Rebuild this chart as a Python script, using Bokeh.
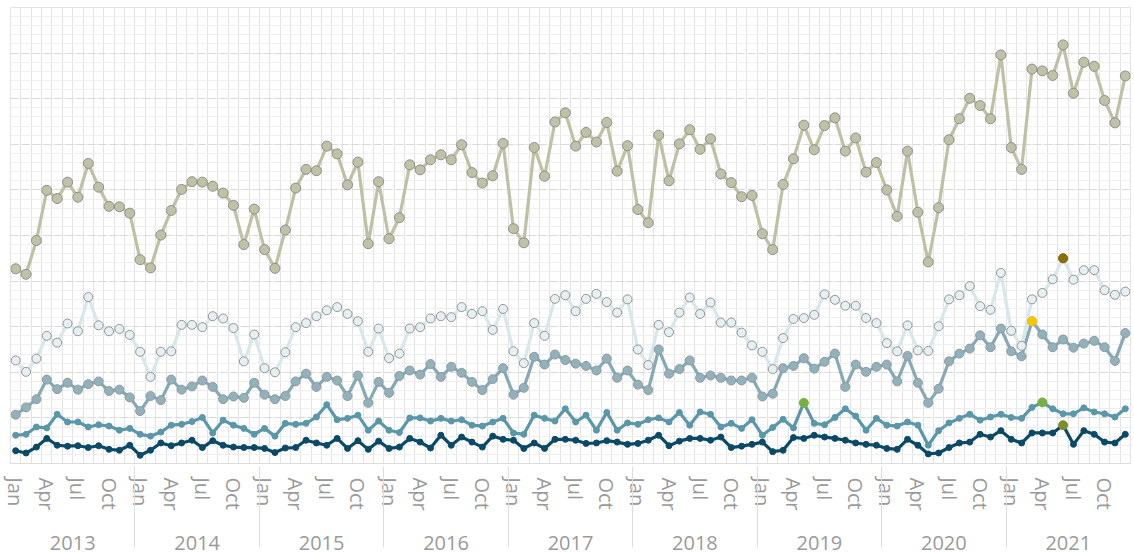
from bokeh.plotting import figure
from bokeh.models import FactorRange, FixedTicker, SingleIntervalTicker, ColumnDataSource
from bokeh.embed import file_html
from bokeh.resources import INLINE

years = ["2013", "2014", "2015", "2016", "2017", "2018", "2019", "2020", "2021"]
# only Jan / Apr / Jul / Oct are labelled; other months get distinct blank labels
month_labels = ["Jan", " ", "  ", "Apr", "   ", "    ", "Jul", "     ", "      ", "Oct", "       ", "        "]

series_1 = [42.7, 41.5, 48.9, 59.9, 58.1, 61.7, 58.4, 65.8, 60.6, 56.4, 56.3, 54.9,
            44.7, 42.9, 50.1, 55.5, 60.1, 61.8, 61.7, 60.8, 59.3, 56.6, 48.0, 55.8,
            46.9, 42.8, 51.2, 60.4, 64.5, 64.2, 69.6, 67.9, 61.1, 66.1, 48.2, 61.8,
            49.3, 53.9, 65.5, 64.4, 66.6, 67.7, 66.6, 69.9, 63.8, 61.5, 63.1, 70.2,
            51.5, 48.4, 69.3, 63.0, 74.9, 76.9, 69.6, 72.6, 70.5, 74.8, 64.1, 69.7,
            55.7, 52.8, 72.0, 62.0, 70.1, 73.2, 68.9, 71.2, 63.5, 61.6, 58.5, 58.8,
            50.4, 46.9, 61.2, 66.8, 74.2, 68.8, 74.1, 75.8, 68.5, 71.4, 63.9, 66.0,
            60.0, 54.2, 68.5, 55.1, 44.2, 56.1, 71.0, 75.6, 80.1, 78.5, 75.6, 89.6,
            69.3, 64.5, 86.5, 86.1, 85.1, 91.8, 81.2, 88.0, 87.1, 79.6, 74.7, 85.0]

series_2 = [22.6, 20.1, 23.0, 28.0, 26.5, 30.7, 29.0, 36.5, 30.3, 29.0, 29.5, 28.2,
            24.5, 19.0, 24.5, 24.6, 30.4, 30.4, 29.9, 32.3, 31.8, 29.7, 22.4, 28.3,
            20.9, 20.0, 24.4, 29.9, 30.8, 32.3, 33.6, 34.3, 32.8, 31.2, 24.5, 29.6,
            23.1, 24.1, 29.6, 29.9, 31.8, 32.3, 32.1, 34.3, 32.8, 33.4, 29.3, 33.9,
            24.6, 22.0, 30.8, 28.0, 36.1, 36.9, 33.4, 36.1, 37.2, 35.4, 33.1, 36.0,
            25.0, 21.6, 30.4, 28.8, 33.1, 36.4, 32.8, 35.3, 30.9, 30.9, 28.7, 25.9,
            24.5, 20.7, 27.5, 31.7, 31.9, 32.6, 37.1, 35.9, 34.6, 34.6, 31.9, 30.8,
            26.4, 24.6, 30.3, 24.8, 24.7, 30.1, 36.0, 36.9, 38.9, 34.5, 33.7, 41.8,
            29.1, 25.8, 36.0, 37.4, 40.4, 45.0, 40.3, 42.4, 42.4, 38.0, 37.0, 37.7]

series_3 = [10.7, 12.3, 14.1, 18.4, 16.3, 17.7, 16.2, 17.4, 18.0, 15.9, 16.2, 14.5,
            11.5, 14.8, 13.9, 18.4, 16.2, 16.9, 18.2, 16.8, 14.1, 14.7, 14.4, 17.7,
            15.1, 14.1, 14.8, 18.0, 19.7, 16.8, 19.0, 18.2, 14.8, 19.3, 13.3, 17.9,
            15.5, 19.2, 20.4, 19.5, 21.8, 19.0, 21.2, 19.9, 17.9, 16.1, 18.5, 20.9,
            15.1, 16.6, 23.4, 21.7, 23.9, 22.7, 21.9, 21.4, 20.4, 23.0, 18.8, 20.4,
            17.3, 16.1, 25.0, 19.7, 20.7, 22.6, 18.8, 19.3, 18.8, 18.2, 18.2, 18.8,
            14.7, 15.3, 20.9, 21.4, 23.1, 20.8, 22.3, 24.1, 16.8, 21.7, 20.1, 21.2,
            21.7, 18.0, 23.6, 17.7, 13.3, 16.4, 22.4, 24.1, 25.2, 28.1, 25.5, 29.6,
            24.6, 23.5, 31.2, 28.3, 25.5, 27.2, 25.4, 26.3, 26.9, 25.5, 22.5, 28.6]

series_4 = [6.2, 6.4, 8.0, 7.8, 10.8, 9.1, 9.1, 8.0, 8.5, 8.2, 7.3, 7.7,
            6.4, 6.0, 6.9, 8.4, 8.6, 9.2, 10.1, 6.7, 9.5, 8.4, 7.7, 6.4,
            7.7, 6.0, 8.8, 8.6, 8.8, 10.2, 12.9, 9.6, 9.9, 10.6, 7.3, 9.3,
            7.3, 6.8, 10.0, 10.0, 9.3, 9.9, 9.3, 9.6, 8.4, 8.2, 9.1, 9.9,
            6.7, 6.4, 10.6, 9.9, 9.3, 12.0, 9.1, 10.6, 7.3, 11.2, 7.3, 8.9,
            8.6, 9.6, 10.0, 9.1, 11.2, 8.4, 11.3, 10.8, 8.0, 8.8, 7.7, 9.6,
            6.2, 7.9, 9.7, 7.8, 13.3, 8.8, 8.5, 10.1, 12.0, 10.4, 7.3, 9.9,
            8.4, 8.2, 9.1, 8.4, 4.0, 7.2, 8.9, 9.9, 10.8, 9.5, 10.2, 10.8,
            10.1, 9.9, 12.3, 13.4, 12.0, 10.9, 10.9, 12.2, 11.3, 10.9, 10.2, 12.0]

series_5 = [2.8, 2.3, 3.6, 5.5, 4.0, 3.8, 3.9, 3.5, 3.9, 3.1, 2.9, 4.0,
            1.8, 2.9, 4.5, 3.9, 4.5, 5.1, 3.5, 5.0, 4.0, 3.6, 3.5, 3.5,
            3.3, 2.4, 3.4, 3.5, 5.1, 4.5, 4.0, 5.5, 3.3, 5.0, 3.1, 4.9,
            3.3, 3.6, 5.5, 4.7, 3.4, 6.2, 4.0, 5.8, 4.7, 3.6, 6.0, 5.3,
            5.1, 3.3, 4.5, 3.3, 5.3, 5.3, 5.1, 4.4, 4.5, 5.0, 4.7, 4.2,
            4.4, 5.1, 6.2, 3.9, 4.9, 5.5, 5.5, 5.1, 5.8, 3.5, 3.8, 4.2,
            4.7, 2.6, 2.9, 5.7, 5.5, 6.2, 5.8, 5.5, 5.1, 4.5, 4.2, 4.0,
            3.3, 3.1, 5.3, 4.0, 2.1, 2.3, 3.5, 4.5, 4.7, 6.4, 5.8, 7.2,
            5.3, 4.5, 6.7, 6.7, 6.7, 8.4, 4.2, 7.2, 6.4, 4.7, 4.5, 6.4]

# highlighted points: (series number, month index from Jan 2013, colour)
highlights = [(2, 101, "#8c6d00"), (3, 98, "#f7c600"), (4, 76, "#78b043"),
              (4, 99, "#78b043"), (5, 101, "#7f8c2d")]

factors = [(y, m) for y in years for m in month_labels]
all_series = {1: series_1, 2: series_2, 3: series_3, 4: series_4, 5: series_5}

x_range = FactorRange(*factors, range_padding=0, factor_padding=0, group_padding=0,
                      subgroup_padding=0)

p = figure(x_range=x_range, y_range=(0, 100), width=1134, height=553,
           output_backend="svg", toolbar_location=None,
           min_border_left=10, min_border_right=4, min_border_top=7, min_border_bottom=90)
p.outline_line_color = "#e3e3e3"
p.background_fill_color = "white"
p.border_fill_color = "white"

# grids
p.xgrid.ticker = FixedTicker(ticks=list(range(0, len(factors) + 1)))
p.xgrid.grid_line_color = "#e3e3e3"
p.xgrid.grid_line_width = 1
p.ygrid.ticker = SingleIntervalTicker(interval=10, num_minor_ticks=5)
p.ygrid.grid_line_color = "#dadada"
p.ygrid.grid_line_dash = "8 3"
p.ygrid.minor_grid_line_color = "#efefef"

p.yaxis.visible = False

ax = p.xaxis[0]
ax.axis_line_color = "#dddddd"
ax.major_tick_line_color = None
ax.minor_tick_line_color = None
ax.major_tick_out = 0
ax.major_tick_in = 0
ax.major_label_orientation = "vertical"
ax.major_label_text_font = "Open Sans"
ax.major_label_text_font_size = "20px"
ax.major_label_text_color = "#9a9a9a"
ax.major_label_standoff = 14
ax.group_text_font = "Open Sans"
ax.group_text_font_size = "20px"
ax.group_text_color = "#9a9a9a"
ax.group_text_font_style = "normal"
ax.separator_line_color = "#dddddd"
ax.separator_line_width = 1

src = ColumnDataSource(dict(x=factors, s1=series_1, s2=series_2, s3=series_3,
                            s4=series_4, s5=series_5))

styles = [
    ("s1", "#bfc1a5", "#c0c2a6", "#8f8f8f", 10),
    ("s2", "#d7e7ea", "#e6f0f2", "#959595", 9),
    ("s3", "#85aab6", "#93b1bb", "#8f9a9e", 9),
    ("s4", "#5a97a9", "#5a97a9", None, 6),
    ("s5", "#0b4a67", "#0b4a67", None, 6),
]
for col, lc, fc, oc, sz in styles:
    p.line("x", col, source=src, line_color=lc, line_width=3.2)
for col, lc, fc, oc, sz in styles:
    if oc is None:
        p.scatter("x", col, source=src, size=sz, fill_color=fc, line_color=fc)
    else:
        p.scatter("x", col, source=src, size=sz, fill_color=fc, line_color=oc, line_width=1)

hx = [factors[i] for s, i, c in highlights]
hy = [all_series[s][i] for s, i, c in highlights]
hc = [c for s, i, c in highlights]
p.scatter(hx, hy, size=9, fill_color=hc, line_color=hc)

open("out.html", "w").write(file_html(p, INLINE))
